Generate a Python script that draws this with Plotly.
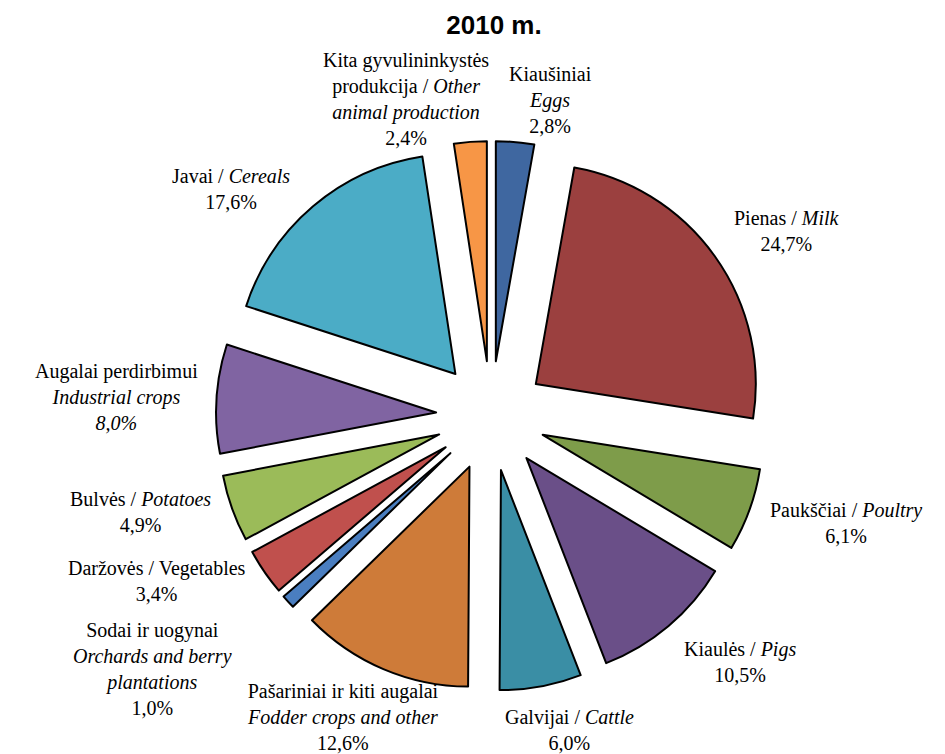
import math
import plotly.graph_objects as go

# ---- data ----
labels_lt = ["Kiaušiniai", "Pienas", "Paukščiai", "Kiaulės", "Galvijai",
             "Pašariniai ir kiti augalai", "Sodai ir uogynai", "Daržovės",
             "Bulvės", "Augalai perdirbimui", "Javai", "Kita gyvulininkystės produkcija"]
labels_en = ["Eggs", "Milk", "Poultry", "Pigs", "Cattle", "Fodder crops and other",
             "Orchards and berry plantations", "Vegetables", "Potatoes",
             "Industrial crops", "Cereals", "Other animal production"]
shares = [2.8, 24.7, 6.1, 10.5, 6.0, 12.6, 1.0, 3.4, 4.9, 8.0, 17.6, 2.4]
colors = ["#3F67A0", "#9B403F", "#7E9C4A", "#6A4F88", "#3A8EA5", "#CE7B39",
          "#4A7EC0", "#C0504D", "#9BBB59", "#8064A2", "#4BACC6", "#F79646"]

def pct(v):
    return f"{v:.1f}%".replace(".", ",")

# label texts (with the original line breaks / italics)
label_text = [
    f"Kiaušiniai<br><i>Eggs</i><br>{pct(shares[0])}",
    f"Pienas / <i>Milk</i><br>{pct(shares[1])}",
    f"Paukščiai / <i>Poultry</i><br>{pct(shares[2])}",
    f"Kiaulės / <i>Pigs</i><br>{pct(shares[3])}",
    f"Galvijai / <i>Cattle</i><br>{pct(shares[4])}",
    f"Pašariniai ir kiti augalai<br><i>Fodder crops and other</i><br>{pct(shares[5])}",
    f"Sodai ir uogynai<br><i>Orchards and berry<br>plantations</i><br>{pct(shares[6])}",
    f"Daržovės / Vegetables<br>{pct(shares[7])}",
    f"Bulvės / <i>Potatoes</i><br>{pct(shares[8])}",
    f"Augalai perdirbimui<br><i>Industrial crops<br>{pct(shares[9])}</i>",
    f"Javai / <i>Cereals</i><br>{pct(shares[10])}",
    f"Kita gyvulininkystės<br>produkcija / <i>Other<br>animal production</i><br>{pct(shares[11])}",
]

# ---- layout parameters ----
W, H = 945, 754
PULL = 0.25
dom_x = [216 / W, 766 / W]
dom_y = [63 / H, 613 / H]
# label nudges (px) to avoid overlaps, like the original chart
label_nudge = [(34, 7), (9, 6), (9, 10), (7, 2), (27, 8), (62, 0),
               (-47, 9), (-8, -23), (-10, 0), (-7, -1), (-15, 16), (-64, 19)]
GAP = 10
FONT = "Liberation Serif"
FSIZE = 20

fig = go.Figure(go.Pie(
    values=shares,
    labels=[f"{a} / {b}" for a, b in zip(labels_lt, labels_en)],
    sort=False, direction="clockwise", rotation=0,
    pull=[PULL] * len(shares),
    marker=dict(colors=colors, line=dict(color="black", width=2)),
    textinfo="none", hoverinfo="label+percent",
    domain=dict(x=dom_x, y=dom_y),
    showlegend=False,
))

# pie geometry in pixels
cx = (dom_x[0] + dom_x[1]) / 2 * W
cy = (1 - (dom_y[0] + dom_y[1]) / 2) * H
size = min((dom_x[1] - dom_x[0]) * W, (dom_y[1] - dom_y[0]) * H)
R = size / 2 / (1 + PULL)
Ro = R * (1 + PULL) + GAP

total = sum(shares)
cum = 0.0
for i, v in enumerate(shares):
    mid = (cum + v / 2) / total * 2 * math.pi
    cum += v
    s, c = math.sin(mid), math.cos(mid)
    px = cx + Ro * s + label_nudge[i][0]
    py = cy - Ro * c + label_nudge[i][1]
    xa = "left" if s > 0.35 else ("right" if s < -0.35 else "center")
    ya = "bottom" if c > 0.35 else ("top" if c < -0.35 else "middle")
    fig.add_annotation(x=px / W, y=1 - py / H, xref="paper", yref="paper",
                       text=label_text[i], showarrow=False, xanchor=xa, yanchor=ya,
                       align="center", font=dict(family=FONT, size=FSIZE, color="black"))

fig.update_layout(
    width=W, height=H,
    margin=dict(l=0, r=0, t=0, b=0),
    paper_bgcolor="white", plot_bgcolor="white",
    title=dict(text="<b>2010 m.</b>", x=494 / W, y=1 - 25 / H, xanchor="center",
               yanchor="middle", font=dict(family="Liberation Sans", size=26, color="black")),
)

fig.write_html("out.html", config={"displayModeBar": False},
               post_script="document.body.style.margin='0';")
